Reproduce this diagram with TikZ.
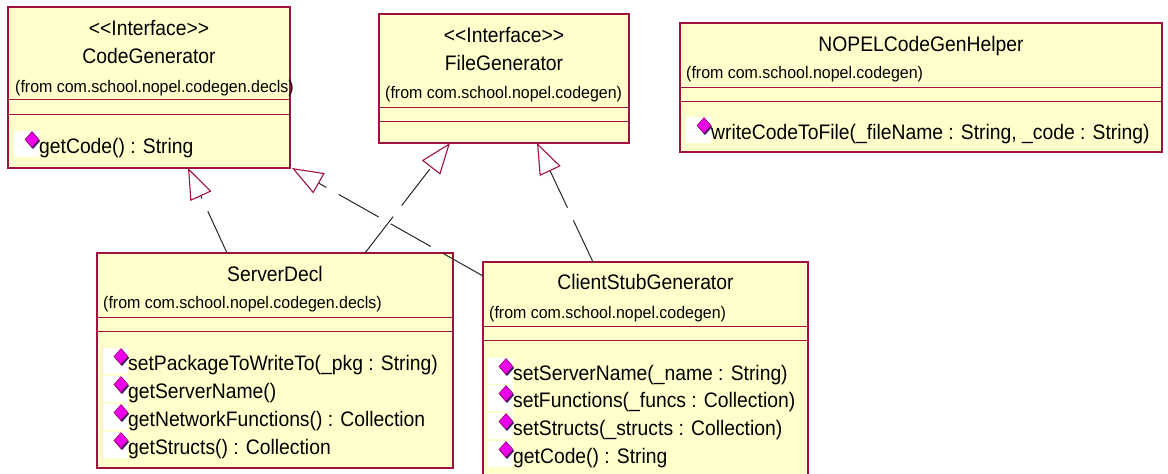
\documentclass[tikz,border=0pt]{standalone}
\usepackage{fontspec}
\setmainfont{Liberation Sans}
\newfontfamily\umlfont{Liberation Sans}[FakeStretch=0.92]
\newfontfamily\umlpkgfont{Liberation Sans}[FakeStretch=0.95]
\usetikzlibrary{arrows.meta}

\definecolor{umlfill}{RGB}{255,255,204}
\definecolor{umlline}{RGB}{160,16,64}
\definecolor{opmag}{RGB}{235,0,235}
\definecolor{opnavy}{RGB}{40,20,110}

\tikzset{
  classbox/.style={draw=umlline, fill=umlfill, line width=1.4pt, inner sep=0pt,
    outer sep=0pt, anchor=north west, rectangle},
  sepline/.style={draw=umlline, line width=0.9pt},
  title/.style={font=\umlfont\fontsize{21}{24}\selectfont, anchor=base, inner sep=0pt},
  pkg/.style={font=\umlpkgfont\fontsize{16.8}{19}\selectfont, anchor=base west, inner sep=0pt},
  optext/.style={font=\umlfont\fontsize{21}{24}\selectfont, anchor=base west, inner sep=0pt},
  realize/.style={draw=black!85, line width=1pt, dash pattern=on 46pt off 14pt,
    -{Triangle[open, length=31pt, width=23pt, color=umlline, line width=1.1pt]}},
}

% operation row: node name, x of text start, baseline, text
\newcommand\umlop[4]{%
  \fill[white] (#2-25,#3-22) rectangle (#2,#3+4);
  \begin{scope}[shift={(#2-7,#3-13.5)}]
    \fill[opnavy] (1,-7) -- (8,1.5) -- (1,9.5) -- (-6,1.5) -- cycle;
    \filldraw[fill=opmag, draw=purple!70!black, line width=0.4pt]
      (0,-8) -- (7,0) -- (0,8) -- (-7,0) -- cycle;
  \end{scope}
  \node[optext] (#1) at (#2,#3) {#4};
}
% horizontal compartment separator across a class box
\newcommand\umlsep[2]{%
  \draw[sepline] (#1.west |- 0,#2) -- (#1.east |- 0,#2);
}

\begin{document}
\begin{tikzpicture}[x=1pt, y=-1pt]
\useasboundingbox (0,0) rectangle (1168,474);

% ---- class boxes ----
\node[classbox, minimum width=282pt, minimum height=161pt] (cg) at (8,7) {};
\node[classbox, minimum width=250pt, minimum height=129pt] (fg) at (379,14) {};
\node[classbox, minimum width=482pt, minimum height=129pt] (nh) at (680,23) {};
\node[classbox, minimum width=356pt, minimum height=215pt] (sd) at (97,253) {};
\node[classbox, minimum width=325pt, minimum height=218pt] (cs) at (483,262) {};

% ---- compartments ----
\umlsep{cg}{99}  \umlsep{cg}{114}
\umlsep{fg}{107} \umlsep{fg}{121}
\umlsep{nh}{87}  \umlsep{nh}{101}
\umlsep{sd}{317} \umlsep{sd}{331}
\umlsep{cs}{326} \umlsep{cs}{340}

% ---- CodeGenerator ----
\node[title] (cgst) at (149,35) {<\kern0pt<Interface>\kern0pt>};
\node[title] (cgname) at (149,63) {CodeGenerator};
\node[pkg] (cgpkg) at (15,92) {(from com.school.nopel.codegen.decls)};
\umlop{cgop1}{39}{153}{getCode() : String}

% ---- FileGenerator ----
\node[title] (fgst) at (504,42) {<\kern0pt<Interface>\kern0pt>};
\node[title] (fgname) at (504,70) {FileGenerator};
\node[pkg] (fgpkg) at (385,98) {(from com.school.nopel.codegen)};

% ---- NOPELCodeGenHelper ----
\node[title] (nhname) at (921,51) {NOPELCodeGenHelper};
\node[pkg] (nhpkg) at (686,78) {(from com.school.nopel.codegen)};
\umlop{nhop1}{711}{139}{writeCodeToFile(\_fileName : String, \_code : String)}

% ---- ServerDecl ----
\node[title] (sdname) at (275,281) {ServerDecl};
\node[pkg] (sdpkg) at (103,308) {(from com.school.nopel.codegen.decls)};
\umlop{sdop1}{128}{370}{setPackageToWriteTo(\_pkg : String)}
\umlop{sdop2}{128}{398}{getServerName()}
\umlop{sdop3}{128}{426}{getNetworkFunctions() : Collection}
\umlop{sdop4}{128}{454}{getStructs() : Collection}

% ---- ClientStubGenerator ----
\node[title] (csname) at (645.5,289) {ClientStubGenerator};
\node[pkg] (cspkg) at (489,318) {(from com.school.nopel.codegen)};
\umlop{csop1}{513}{380}{setServerName(\_name : String)}
\umlop{csop2}{513}{407}{setFunctions(\_funcs : Collection)}
\umlop{csop3}{513}{435}{setStructs(\_structs : Collection)}
\umlop{csop4}{513}{463}{getCode() : String}

% ---- realizations ----
\draw[realize] ([xshift=130pt]sd.north west) -- ([xshift=180pt]cg.south west);
\draw[realize] ([xshift=268pt]sd.north west) -- ([xshift=71pt]fg.south west);
\draw[realize] ([xshift=110pt]cs.north west) -- ([xshift=158pt]fg.south west);
\draw[realize] ([yshift=-14pt]cs.north west) -- ([xshift=2pt]cg.south east);
\end{tikzpicture}
\end{document}
